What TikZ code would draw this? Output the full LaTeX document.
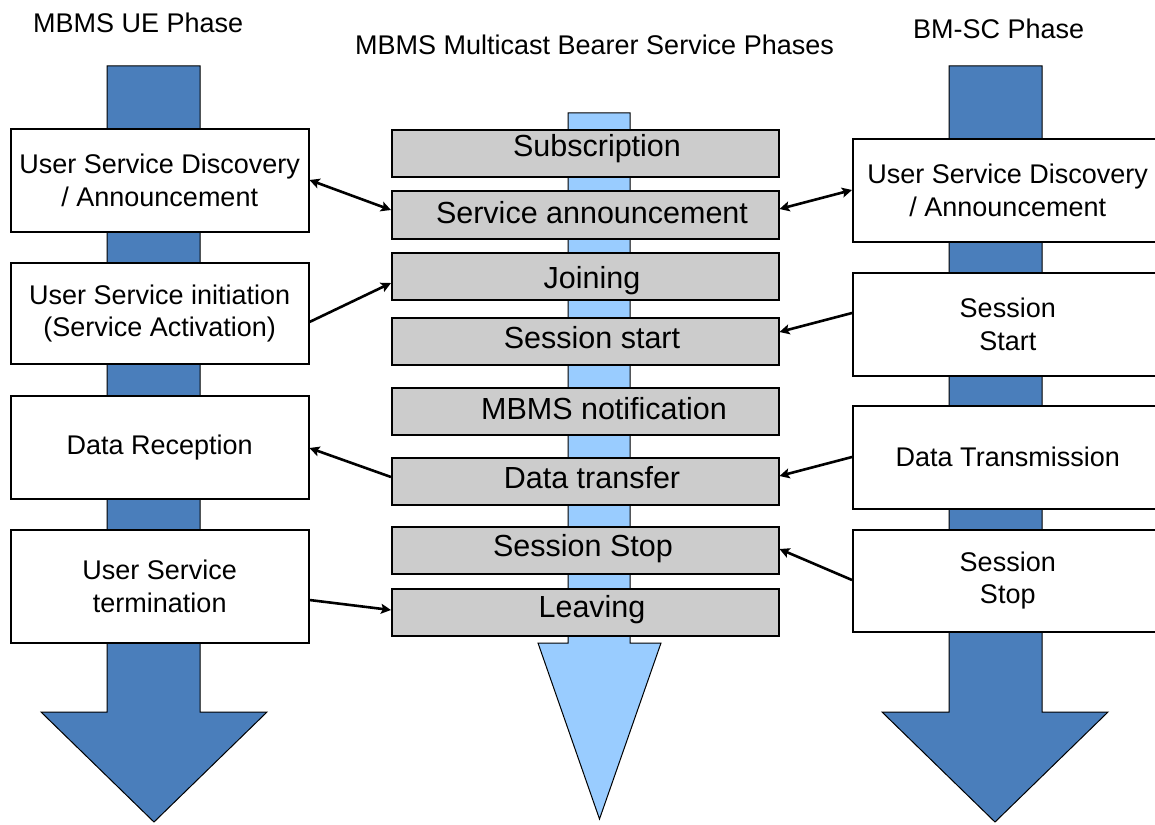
\documentclass[tikz,border=0pt]{standalone}
\usepackage{fontspec}
\setmainfont{Liberation Sans}
\usetikzlibrary{arrows.meta}
\definecolor{darkblue}{HTML}{4A7EBB}
\definecolor{lightblue}{HTML}{99CCFF}
\definecolor{boxgray}{HTML}{CCCCCC}
\newcommand\sidefont{\fontsize{27}{32.4}\selectfont}
\newcommand\phasefont{\fontsize{30.5}{36}\selectfont}
\begin{document}
\begin{tikzpicture}[x=1pt,y=-1pt,
  bigarrow/.style={line width=1pt, draw=black},
  sidebox/.style={draw=black, fill=white, line width=1.5pt, rectangle, inner sep=0pt, anchor=north west, align=center, font=\sidefont},
  phasebox/.style={draw=black, fill=boxgray, line width=1.5pt, rectangle, inner sep=0pt, anchor=north west, minimum width=387pt},
  phasetext/.style={anchor=base, inner sep=0pt, font=\phasefont},
  titletext/.style={anchor=base west, inner sep=0pt, font=\sidefont},
  link/.style={line width=2.6pt, -{Stealth[length=10pt,width=10pt,inset=2pt]}},
  dlink/.style={line width=2.6pt, {Stealth[length=10pt,width=10pt,inset=2pt]}-{Stealth[length=10pt,width=10pt,inset=2pt]}}]
\clip (0,0) rectangle (1155,824);
\fill[white] (0,0) rectangle (1155,824);

% titles
\node[titletext] (tl) at (33,33) {MBMS UE Phase};
\node[titletext] (tc) at (355,55) {MBMS Multicast Bearer Service Phases};
\node[titletext] (tr) at (913,39) {BM-SC Phase};

% big arrows
\draw[bigarrow, fill=darkblue] (107,66) -- (200,66) -- (200,712) -- (267,712) -- (154,822) -- (41,712) -- (107,712) -- cycle;
\draw[bigarrow, fill=darkblue] (949,66) -- (1042,66) -- (1042,712) -- (1108,712) -- (995,822) -- (882,712) -- (949,712) -- cycle;
\draw[bigarrow, fill=lightblue] (568,113) -- (630,113) -- (630,643) -- (661,643) -- (599.5,819) -- (538,643) -- (568,643) -- cycle;

% left boxes
\node[sidebox, minimum width=298pt, minimum height=103pt] (l1) at (10,128) {User Service Discovery\\/ Announcement};
\node[sidebox, minimum width=298pt, minimum height=101pt] (l2) at (10,262) {User Service initiation\\(Service Activation)};
\node[sidebox, minimum width=298pt, minimum height=103pt] (l3) at (10,395) {Data Reception};
\node[sidebox, minimum width=298pt, minimum height=113pt] (l4) at (10,529) {User Service\\termination};

% right boxes
\node[sidebox, minimum width=310pt, minimum height=103pt] (r1) at (852,138) {User Service Discovery\\/ Announcement};
\node[sidebox, minimum width=310pt, minimum height=103pt] (r2) at (852,272) {Session\\Start};
\node[sidebox, minimum width=310pt, minimum height=103pt] (r3) at (852,405) {Data Transmission};
\node[sidebox, minimum width=310pt, minimum height=102pt] (r4) at (852,529) {Session\\Stop};

% center boxes
\node[phasebox, minimum height=47pt] (c1) at (391,129) {};
\node[phasebox, minimum height=48pt] (c2) at (391,190) {};
\node[phasebox, minimum height=47pt] (c3) at (391,252) {};
\node[phasebox, minimum height=47pt] (c4) at (391,317) {};
\node[phasebox, minimum height=47pt] (c5) at (391,387) {};
\node[phasebox, minimum height=47pt] (c6) at (391,457) {};
\node[phasebox, minimum height=47pt] (c7) at (391,526) {};
\node[phasebox, minimum height=47pt] (c8) at (391,588) {};

\node[phasetext] (t1) at (597,156) {Subscription};
\node[phasetext] (t2) at (592,223) {Service announcement};
\node[phasetext] (t3) at (592,288) {Joining};
\node[phasetext] (t4) at (592,348) {Session start};
\node[phasetext] (t5) at (604,419) {MBMS notification};
\node[phasetext] (t6) at (592,488) {Data transfer};
\node[phasetext] (t7) at (583,556) {Session Stop};
\node[phasetext] (t8) at (592,617) {Leaving};

% connectors
\draw[dlink] (l1.east |- 0,180) -- (c2.west |- 0,210);
\draw[link] (l2.east |- 0,322) -- (c3.west |- 0,283);
\draw[link] (c6.west |- 0,477) -- (l3.east |- 0,448);
\draw[link] (l4.east |- 0,600) -- (c8.west |- 0,610);
\draw[dlink] (r1.west |- 0,190) -- (c2.east |- 0,209);
\draw[link] (r2.west |- 0,313) -- (c4.east |- 0,332);
\draw[link] (r3.west |- 0,457) -- (c6.east |- 0,476);
\draw[link] (r4.west |- 0,580) -- (c7.east |- 0,549);
\end{tikzpicture}
\end{document}
